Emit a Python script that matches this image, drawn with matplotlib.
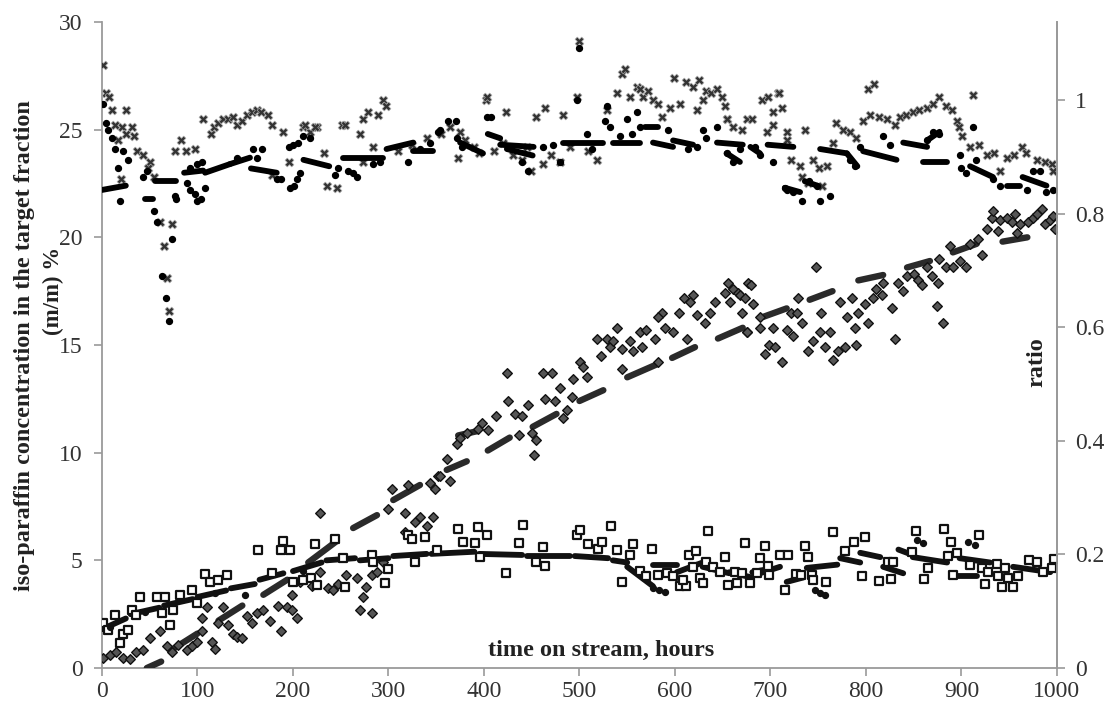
import numpy as np
import matplotlib.pyplot as plt

plt.rcParams['font.family'] = ['Liberation Serif', 'DejaVu Serif']

# crosses (upper scatter)
cross_x = [1, 4, 7, 10, 14, 25, 21, 25, 31, 34, 17, 37, 43, 50, 48, 20, 55, 61, 73, 65, 68, 70,
           76, 83, 88, 97, 106, 114, 117, 121, 127, 132, 137, 141, 147, 152, 157, 162, 167, 174, 178,
           190, 196, 178, 211, 218, 225, 232, 236, 246, 251, 255, 270, 273, 279, 289, 294, 297, 284,
           273, 213, 223, 310, 325, 340, 355, 364, 373, 375, 380, 390, 395, 402, 403, 410, 420, 423,
           430, 440, 445, 449, 455, 462, 464, 470, 480, 483, 490, 497, 499, 509, 518, 529, 539, 545,
           548, 553, 560, 563, 567, 572, 577, 582, 586, 595, 599, 605, 612, 619, 623, 625, 629, 633,
           638, 644, 649, 652, 654, 655, 661, 670, 675, 681, 691, 696, 697, 703, 703, 708, 709, 712,
           717, 717, 722, 731, 733, 736, 739, 745, 751, 754, 759, 765, 769, 776, 783, 790, 797, 802,
           804, 808, 814, 822, 830, 836, 842, 849, 856, 864, 870, 877, 884, 890, 895, 897, 901, 909,
           912, 918, 927, 934, 940, 948, 955, 963, 968, 979, 987, 995, 996]
cross_y = [28.0, 26.7, 26.5, 25.9, 25.2, 25.9, 25.1, 24.8, 25.1, 24.7, 24.5, 24.0, 23.8, 23.5, 23.2,
           22.7, 22.8, 20.7, 20.6, 19.6, 18.1, 16.6, 24.0, 24.5, 24.0, 24.1, 25.5, 24.8, 25.1, 25.3,
           25.5, 25.5, 25.6, 25.2, 25.4, 25.7, 25.8, 25.9, 25.8, 25.7, 25.2, 24.9, 23.5, 22.9, 25.1,
           24.9, 25.1, 23.9, 22.4, 22.3, 25.2, 25.2, 24.8, 25.5, 25.8, 25.7, 26.4, 26.1, 24.2, 23.5,
           25.2, 25.1, 24.0, 24.3, 24.6, 24.8, 25.1, 23.7, 24.9, 24.5, 24.2, 23.9, 26.4, 26.5, 24.0,
           24.4, 25.8, 23.8, 23.6, 24.2, 23.1, 25.6, 23.4, 26.0, 23.8, 23.5, 25.7, 24.2, 26.5, 29.1,
           24.0, 23.6, 25.9, 26.7, 27.6, 27.8, 26.5, 27.0, 26.9, 26.5, 26.8, 26.4, 26.2, 25.6, 26.0,
           27.4, 26.2, 27.2, 27.0, 25.9, 27.3, 26.4, 26.8, 26.7, 26.9, 26.5, 26.1, 25.5, 25.5, 25.1,
           25.0, 25.5, 25.5, 26.4, 24.9, 26.5, 25.8, 25.2, 26.7, 26.7, 26.0, 24.9, 24.5, 23.6, 23.3,
           22.8, 25.0, 22.5, 23.6, 23.2, 22.4, 23.3, 24.4, 25.3, 25.0, 24.9, 24.6, 25.4, 26.9, 25.7,
           27.1, 25.6, 25.5, 25.2, 25.6, 25.7, 25.8, 25.9, 26.0, 26.2, 26.5, 26.1, 25.9, 25.4, 25.1,
           24.7, 24.2, 26.6, 24.3, 23.8, 23.9, 23.1, 23.7, 23.8, 24.2, 23.9, 23.6, 23.5, 23.4, 23.1]

# small filled dots, upper band
dot_x = [1, 4, 6, 10, 14, 22, 27, 17, 19, 43, 47, 55, 58, 63, 67, 70, 73, 76, 78, 89, 92, 97, 100,
         104, 108, 92, 99, 105, 141, 158, 168, 162, 183, 187, 197, 201, 204, 207, 196, 200, 205, 211,
         218, 244, 247, 258, 263, 267, 284, 291, 320, 333, 343, 352, 354, 362, 371, 372, 377, 403,
         407, 440, 446, 462, 472, 480, 497, 499, 508, 513, 527, 529, 532, 542, 550, 555, 560, 563,
         593, 614, 623, 629, 633, 644, 654, 661, 668, 684, 689, 703, 715, 717, 724, 733, 740, 749,
         752, 762, 783, 789, 794, 818, 825, 864, 870, 877, 898, 900, 905, 912, 915, 933, 940, 969,
         975, 982, 989, 996]
dot_y = [26.2, 25.3, 25.0, 24.6, 24.1, 24.0, 23.6, 23.2, 21.7, 22.8, 23.1, 21.2, 20.7, 18.2, 17.2,
         16.1, 19.9, 21.9, 21.8, 22.5, 22.2, 22.0, 21.7, 21.8, 22.3, 23.2, 23.4, 23.5, 23.7, 24.1,
         24.1, 23.7, 22.7, 22.7, 22.3, 22.4, 22.7, 23.0, 24.2, 24.3, 24.4, 24.7, 24.6, 22.9, 23.2,
         23.1, 23.0, 22.8, 23.4, 23.5, 23.5, 24.1, 24.4, 24.9, 25.0, 25.4, 25.4, 24.6, 24.2, 25.6,
         25.6, 23.5, 23.1, 24.2, 24.3, 23.5, 26.4, 28.8, 24.8, 24.1, 25.4, 26.1, 25.1, 24.7, 25.5,
         24.8, 25.8, 25.1, 25.0, 24.1, 24.2, 25.0, 24.6, 25.1, 23.9, 23.5, 24.1, 24.2, 23.8, 23.5,
         22.3, 22.2, 22.1, 21.7, 22.6, 22.4, 21.7, 21.9, 23.6, 23.3, 24.2, 24.7, 24.3, 24.5, 24.9,
         24.8, 23.8, 23.2, 23.0, 25.1, 23.6, 22.7, 22.4, 22.2, 23.1, 23.1, 22.1, 22.2]
dot_runs = [(0, 22.2, 25, 22.4), (45, 21.8, 53, 21.8), (56, 22.6, 78, 22.6), (86, 23.0, 106, 23.1),
            (108, 23.0, 134, 23.4), (134, 23.4, 155, 23.7), (156, 23.2, 183, 23.0),
            (211, 23.6, 238, 23.3), (252, 23.7, 294, 23.7), (298, 24.1, 326, 24.4),
            (326, 24.0, 347, 24.0), (375, 24.4, 399, 23.9), (404, 24.8, 417, 24.6),
            (417, 24.3, 452, 24.2), (424, 24.1, 451, 23.8), (483, 24.4, 525, 24.4),
            (535, 24.4, 563, 24.4), (569, 25.1, 582, 25.1), (577, 24.4, 598, 24.2),
            (598, 24.5, 619, 24.3), (644, 24.4, 671, 24.3), (654, 23.9, 668, 23.5),
            (679, 24.2, 689, 23.9), (697, 24.3, 724, 24.2), (715, 22.3, 731, 22.1),
            (736, 22.6, 749, 22.4), (752, 24.1, 780, 23.9), (780, 23.9, 791, 23.3),
            (797, 24.0, 832, 23.6), (839, 24.4, 864, 24.2), (864, 24.5, 877, 24.9),
            (860, 23.5, 885, 23.5), (909, 23.3, 933, 22.8), (948, 22.4, 961, 22.4),
            (964, 22.8, 989, 22.4)]

# grey diamonds (rising scatter)
dia_x = [1, 8, 15, 22, 29, 36, 43, 50, 61, 68, 73, 80, 89, 94, 99, 105, 105, 110, 115, 118, 121, 127,
         132, 137, 141, 147, 152, 157, 162, 169, 176, 184, 188, 194, 199, 204, 199, 207, 220, 228, 228,
         237, 242, 247, 256, 267, 270, 273, 277, 283, 283, 288, 294, 299, 304, 317, 320, 328, 333, 340,
         343, 349, 347, 317, 352, 354, 361, 364, 372, 375, 382, 394, 398, 404, 413, 424, 425, 432, 437,
         440, 446, 450, 452, 455, 462, 471, 464, 474, 480, 483, 487, 492, 493, 501, 504, 508, 518, 523,
         529, 532, 535, 539, 545, 545, 553, 556, 563, 570, 566, 579, 582, 586, 582, 590, 598, 604, 609,
         613, 619, 616, 623, 631, 637, 642, 652, 656, 661, 666, 658, 670, 675, 677, 668, 673, 680, 682,
         675, 689, 689, 694, 698, 705, 703, 712, 717, 724, 722, 728, 729, 733, 739, 745, 748, 753, 752,
         757, 762, 765, 771, 778, 773, 780, 785, 789, 790, 792, 799, 802, 807, 811, 817, 818, 827, 830,
         834, 839, 843, 850, 855, 859, 864, 869, 874, 875, 877, 881, 884, 888, 891, 898, 905, 909, 917,
         921, 927, 932, 933, 938, 940, 948, 953, 956, 958, 961, 970, 975, 979, 984, 987, 993, 996, 998]
dia_y = [0.45, 0.6, 0.75, 0.45, 0.4, 0.75, 0.85, 1.4, 1.7, 1.0, 0.75, 1.05, 0.85, 1.0, 1.2, 1.7, 2.3,
         2.85, 1.2, 0.9, 2.1, 2.85, 2.0, 1.6, 1.45, 1.4, 2.4, 2.1, 2.55, 2.7, 2.2, 2.9, 1.7, 2.85, 2.7,
         2.3, 3.4, 4.0, 3.8, 4.45, 7.2, 3.7, 3.6, 3.9, 4.3, 4.2, 2.7, 3.3, 3.75, 2.55, 4.3, 4.45, 4.9,
         7.4, 8.3, 7.2, 8.5, 6.8, 7.0, 6.6, 8.6, 8.3, 7.0, 6.3, 8.9, 8.9, 9.7, 8.7, 10.4, 10.7, 10.9,
         11.1, 11.4, 11.05, 11.7, 13.7, 12.4, 11.8, 10.8, 11.7, 12.2, 10.9, 9.9, 10.6, 13.7, 13.7,
         12.5, 12.4, 13.0, 11.6, 12.0, 12.6, 13.4, 14.2, 14.0, 13.5, 15.3, 14.5, 15.3, 14.9, 15.2,
         15.8, 14.8, 13.9, 15.2, 14.7, 15.6, 15.7, 14.9, 15.3, 14.2, 16.5, 16.3, 15.8, 15.6, 16.5,
         17.2, 15.3, 17.3, 17.0, 16.4, 16.0, 16.5, 17.0, 17.4, 17.9, 17.6, 17.4, 17.0, 16.5, 15.6,
         17.9, 17.3, 17.2, 17.8, 16.9, 15.6, 16.3, 15.8, 14.6, 15.0, 14.9, 15.8, 14.2, 15.7, 15.4,
         16.5, 16.5, 17.2, 16.0, 14.7, 15.2, 18.6, 16.5, 15.6, 14.9, 15.6, 14.3, 14.7, 14.9, 17.0,
         16.3, 17.2, 15.8, 15.0, 16.5, 16.9, 16.0, 17.2, 17.6, 17.3, 17.9, 16.7, 15.3, 17.9, 17.5,
         18.2, 18.3, 18.0, 17.8, 18.6, 18.2, 16.8, 17.9, 19.0, 16.0, 18.6, 19.6, 18.6, 18.9, 18.6,
         19.7, 19.9, 19.2, 20.4, 20.9, 21.2, 20.3, 20.8, 20.9, 20.7, 21.1, 20.2, 20.6, 20.7, 20.9,
         21.1, 21.3, 20.6, 20.8, 21.0, 20.4]
dia_runs = [(47, 0.0, 62, 0.3), (75, 0.9, 100, 1.6), (122, 2.2, 147, 2.9), (169, 3.4, 194, 4.1),
            (216, 4.9, 246, 5.9), (263, 6.5, 288, 7.1), (305, 7.8, 333, 8.5), (361, 9.2, 382, 9.6),
            (373, 10.8, 393, 11.0), (404, 10.1, 427, 10.7), (451, 11.2, 476, 11.8),
            (500, 12.4, 525, 12.9), (550, 13.5, 581, 14.1), (597, 14.4, 621, 14.9),
            (645, 15.3, 671, 15.8), (692, 16.3, 717, 16.7), (741, 17.1, 765, 17.5),
            (792, 18.0, 818, 18.25), (843, 18.6, 867, 18.9), (891, 19.3, 916, 19.7),
            (943, 19.8, 969, 20.0)]

# open squares (lower scatter)
sq_x = [1, 6, 14, 19, 22, 27, 31, 36, 40, 58, 63, 71, 66, 74, 82, 94, 99, 108, 113, 121, 131, 163,
        178, 188, 190, 197, 200, 211, 219, 225, 223, 244, 254, 252, 283, 284, 296, 300, 320, 325, 338,
        328, 351, 373, 378, 394, 403, 391, 396, 423, 437, 441, 455, 464, 462, 497, 501, 509, 519, 524,
        533, 539, 545, 553, 556, 576, 563, 570, 582, 592, 598, 605, 612, 608, 615, 622, 619, 626, 629,
        635, 633, 640, 647, 652, 656, 663, 665, 670, 673, 679, 686, 689, 694, 697, 698, 710, 715, 718,
        727, 732, 736, 739, 743, 745, 758, 765, 778, 787, 799, 796, 814, 823, 826, 828, 848, 852, 861,
        865, 882, 889, 886, 895, 891, 909, 918, 921, 925, 928, 937, 938, 942, 946, 949, 954, 959, 971,
        979, 985, 995, 997]
sq_y = [2.1, 1.75, 2.45, 1.15, 1.6, 1.75, 2.7, 2.45, 3.3, 3.3, 2.55, 2.0, 3.3, 2.7, 3.4, 3.6, 3.0,
        4.35, 4.0, 4.1, 4.3, 5.5, 4.4, 5.5, 5.9, 5.5, 4.0, 4.1, 4.2, 3.85, 5.75, 6.0, 3.75, 5.1, 5.25,
        4.9, 3.95, 4.6, 6.2, 6.0, 6.1, 4.9, 5.5, 6.45, 5.85, 6.55, 6.2, 5.8, 5.15, 4.4, 5.8, 6.65, 4.9,
        4.75, 5.6, 6.2, 6.4, 5.75, 5.55, 5.85, 6.6, 5.5, 4.0, 5.25, 5.75, 5.55, 4.5, 4.25, 4.3, 4.4,
        4.25, 3.8, 3.8, 4.1, 5.25, 5.45, 4.7, 4.2, 3.95, 6.35, 4.9, 4.7, 4.45, 5.15, 3.85, 4.45, 3.95,
        4.4, 5.8, 3.95, 4.4, 5.1, 5.65, 4.75, 4.3, 5.25, 3.6, 5.25, 4.35, 4.3, 5.65, 5.15, 4.3, 4.1,
        4.0, 6.3, 5.45, 5.85, 6.1, 4.25, 4.05, 4.9, 4.15, 4.9, 5.4, 6.35, 4.15, 4.65, 6.45, 5.85, 5.2,
        5.35, 4.3, 4.8, 6.2, 4.65, 3.9, 4.45, 4.85, 4.25, 3.75, 4.65, 4.2, 3.75, 4.25, 5.0, 4.9, 4.45,
        4.65, 5.05]

# small filled dots, lower band
low_x = [8, 45, 118, 150, 210, 577, 583, 590, 747, 752, 757, 853, 860, 907, 914]
low_y = [1.9, 2.6, 3.5, 3.4, 4.5, 3.7, 3.6, 3.55, 3.6, 3.5, 3.4, 5.95, 5.8, 5.85, 5.7]
low_runs = [(0, 1.8, 25, 2.3), (30, 2.5, 60, 2.8), (65, 2.9, 95, 3.2), (100, 3.3, 130, 3.6),
            (135, 3.7, 160, 3.9), (165, 4.1, 190, 4.4), (200, 4.5, 230, 4.9), (235, 5.0, 265, 5.1),
            (270, 5.0, 300, 5.1), (305, 5.2, 340, 5.3), (345, 5.3, 390, 5.4), (395, 5.3, 440, 5.25),
            (445, 5.2, 490, 5.2), (495, 5.2, 530, 5.1), (535, 5.0, 550, 4.9), (550, 4.7, 577, 3.8),
            (577, 4.8, 602, 4.8), (602, 4.45, 629, 4.9), (629, 4.7, 657, 4.4), (657, 4.45, 681, 4.2),
            (681, 4.45, 698, 4.6), (689, 4.4, 710, 4.7), (717, 4.0, 734, 4.2), (738, 4.65, 770, 4.8),
            (773, 5.1, 794, 4.9), (794, 5.35, 815, 5.15), (818, 4.7, 839, 4.4), (834, 5.5, 849, 5.25),
            (849, 5.15, 885, 4.9), (891, 4.25, 916, 4.25), (898, 5.1, 930, 4.9), (954, 4.7, 993, 4.45)]

fig = plt.figure(figsize=(11.07, 7.09), dpi=100)
ax = fig.add_axes([0.0921, 0.0578, 0.8627, 0.9112])

def draw_runs(runs, color, lw):
    for x0, y0, x1, y1 in runs:
        ax.plot([x0, x1], [y0, y1], color=color, lw=lw, solid_capstyle='round', zorder=3)

draw_runs(dia_runs, '#2a2a2a', 4.6)
ax.scatter(dia_x, dia_y, marker='D', s=24, facecolor='#555555', edgecolor='#111111', lw=1.0, zorder=3)
ax.scatter(sq_x, sq_y, marker='s', s=30, facecolor='white', edgecolor='#111111', lw=1.6, zorder=4)
draw_runs(low_runs, '#111111', 4.2)
ax.scatter(low_x, low_y, marker='o', s=18, color='#111111', zorder=4)
ax.scatter(cross_x, cross_y, marker='X', s=40, facecolor='#333333', edgecolor='#aaaaaa', lw=0.5, zorder=3)
draw_runs(dot_runs, '#000000', 4.2)
ax.scatter(dot_x, dot_y, marker='o', s=18, color='#000000', zorder=4)

ax.set_xlim(0, 1000)
ax.set_ylim(0, 30)
ax.set_xticks(range(0, 1001, 100))
ax.set_yticks(range(0, 31, 5))
ax.spines['top'].set_visible(False)
for s in ['left', 'bottom', 'right']:
    ax.spines[s].set_color('#9a9a9a')
    ax.spines[s].set_linewidth(1.3)
ax.tick_params(axis='both', direction='out', length=6, width=1.2, color='#9a9a9a',
               labelsize=17, labelcolor='#333333')
ax.tick_params(axis='x', pad=3)
ax.tick_params(axis='y', pad=8)

ax2 = ax.twinx()
ax2.set_ylim(0, 30 / 26.38)
ax2.set_yticks([0, 0.2, 0.4, 0.6, 0.8, 1.0], ['0', '0.2', '0.4', '0.6', '0.8', '1'])
for s in ['top', 'left', 'bottom']:
    ax2.spines[s].set_visible(False)
ax2.spines['right'].set_color('#9a9a9a')
ax2.spines['right'].set_linewidth(1.3)
ax2.tick_params(axis='y', direction='out', length=6, width=1.2, color='#9a9a9a',
                labelsize=17, labelcolor='#333333', pad=7)

fig.text(0.022, 0.513, 'iso-paraffin concentration in the target fraction', rotation=90,
         ha='center', va='center', fontsize=17.5, fontweight='bold', color='#222222')
fig.text(0.048, 0.59, '(m/m) %', rotation=90, ha='center', va='center',
         fontsize=16.5, fontweight='bold', color='#222222')
fig.text(0.937, 0.489, 'ratio', rotation=90, ha='center', va='center',
         fontsize=17.5, fontweight='bold', color='#222222')
fig.text(0.543, 0.083, 'time on stream, hours', ha='center', va='center',
         fontsize=17.5, fontweight='bold', color='#222222')

fig.savefig('out.png', dpi=100)
